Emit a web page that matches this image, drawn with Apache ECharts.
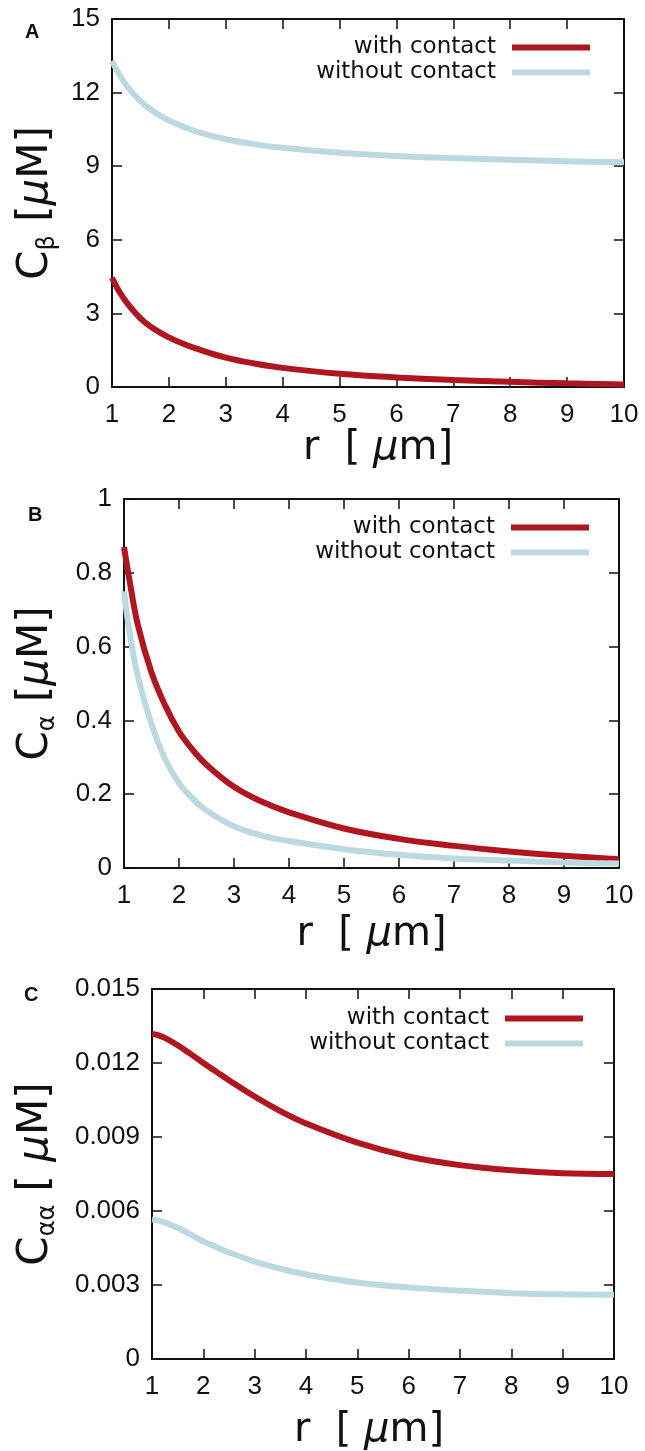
<!DOCTYPE html>
<html>
<head>
<meta charset="utf-8">
<script src="https://cdn.jsdelivr.net/npm/echarts@6/dist/echarts.min.js"></script>
<style>
  html, body { margin: 0; padding: 0; background: #fff; }
  #chart { width: 645px; height: 1451px; }
</style>
</head>
<body>
<div id="chart"></div>
<script>
// r sample points (µm) and curves
const rValues = [1, 1.1, 1.25, 1.5, 1.75, 2, 2.25, 2.5, 3, 3.5, 4, 5, 6, 7, 8, 9, 10];
const seriesNames = ["with contact", "without contact"];

const betaWith = [4.45, 4.0, 3.47, 2.8, 2.35, 2.02, 1.76, 1.55, 1.2, 0.96, 0.78, 0.54, 0.39, 0.29, 0.21, 0.15, 0.1];
const betaWithout = [13.3, 12.85, 12.3, 11.65, 11.2, 10.87, 10.62, 10.4, 10.1, 9.9, 9.75, 9.55, 9.42, 9.33, 9.26, 9.2, 9.16];

const alphaWith = [0.87, 0.78, 0.66, 0.53, 0.44, 0.37, 0.32, 0.28, 0.22, 0.18, 0.151, 0.107, 0.079, 0.06, 0.045, 0.033, 0.024];
const alphaWithout = [0.75, 0.64, 0.52, 0.39, 0.295, 0.23, 0.188, 0.156, 0.113, 0.088, 0.073, 0.051, 0.036, 0.026, 0.02, 0.015, 0.012];

const alphaAlphaWith = [0.01318, 0.01314, 0.01302, 0.01272, 0.01237, 0.012, 0.01165, 0.0113, 0.01064, 0.01005, 0.00955, 0.00877, 0.00821, 0.00786, 0.00765, 0.00753, 0.0075];
const alphaAlphaWithout = [0.00566, 0.00562, 0.00553, 0.00532, 0.00505, 0.00477, 0.00454, 0.00432, 0.00395, 0.00366, 0.00343, 0.0031, 0.0029, 0.00277, 0.00267, 0.00262, 0.0026];

// tick labels
const xTicks = [1, 2, 3, 4, 5, 6, 7, 8, 9, 10];
const yTicksA = [0, 3, 6, 9, 12, 15];
const yTicksB = [0, 0.2, 0.4, 0.6, 0.8, 1];
const yTicksC = [0, 0.003, 0.006, 0.009, 0.012, 0.015];

const RED = "#b0161f";
const BLUE = "#bcd9e1";
const FONT = "DejaVu Sans";
const TICK_FONT = "Liberation Sans";

const panels = [
  { letter: "A", ticks: yTicksA, withC: betaWith, withoutC: betaWithout,
    yName: "{c|C}{s|β}{c| [}{m|μ}{c|M]}",
    grid: { left: 112, top: 19, width: 512, height: 368 },
    yGap: 52, xGap: 42, xShift: 10,
    legend: { right: 55, top: 36 }, title: { left: 25, top: 22 } },
  { letter: "B", ticks: yTicksB, withC: alphaWith, withoutC: alphaWithout,
    yName: "{c|C}{s|α}{c| [}{m|μ}{c|M]}",
    grid: { left: 124, top: 499, width: 495, height: 369 },
    yGap: 64, xGap: 47, xShift: 0,
    legend: { right: 56, top: 516 }, title: { left: 28, top: 505 } },
  { letter: "C", ticks: yTicksC, withC: alphaAlphaWith, withoutC: alphaAlphaWithout,
    yName: "{c|C}{s|αα}{c| [ }{m|μ}{c|M]}",
    grid: { left: 152, top: 989, width: 462, height: 370 },
    yGap: 92, xGap: 52, xShift: -14,
    legend: { right: 62, top: 1007 }, title: { left: 24, top: 985 } }
];

function zip(xs, ys) {
  return xs.map((x, i) => [x, ys[i]]);
}

function fmt(v) {
  return String(parseFloat(v.toFixed(4)));
}

const tickStyle = { show: true, inside: true, length: 10, lineStyle: { color: "#111", width: 1.5 } };
const lineAxis = { show: true, onZero: false, lineStyle: { color: "#111", width: 2 } };

const option = {
  backgroundColor: "#fff",
  animation: false,
  title: [], grid: [], xAxis: [], yAxis: [], legend: [], series: []
};

panels.forEach((p, i) => {
  const yMin = p.ticks[0];
  const yMax = p.ticks[p.ticks.length - 1];
  const yStep = p.ticks[1] - p.ticks[0];

  option.title.push({
    text: p.letter, left: p.title.left, top: p.title.top, padding: 0,
    textStyle: { fontFamily: "Liberation Sans", fontWeight: "bold", fontSize: 20, color: "#111" }
  });

  option.grid.push(Object.assign({ show: false, containLabel: false, outerBoundsMode: "none" }, p.grid));

  // bottom / top x axes
  option.xAxis.push({
    type: "value", gridIndex: i, position: "bottom",
    min: xTicks[0], max: xTicks[xTicks.length - 1], interval: 1,
    name: "{a|r  [ }{m|μ}{a|m]}", nameLocation: "middle", nameGap: p.xGap,
    nameTextStyle: {
      padding: p.xShift >= 0 ? [0, 0, 0, 2 * p.xShift] : [0, -2 * p.xShift, 0, 0],
      rich: {
        a: { fontFamily: FONT, fontSize: 40, color: "#111" },
        m: { fontFamily: FONT, fontSize: 40, fontStyle: "italic", color: "#111" }
      }
    },
    axisLine: lineAxis, axisTick: tickStyle, splitLine: { show: false },
    axisLabel: { margin: 15, fontFamily: TICK_FONT, fontSize: 26, color: "#111", formatter: fmt }
  });
  option.xAxis.push({
    type: "value", gridIndex: i, position: "top",
    min: xTicks[0], max: xTicks[xTicks.length - 1], interval: 1,
    axisLine: lineAxis, axisTick: tickStyle, splitLine: { show: false },
    axisLabel: { show: false }
  });

  // left / right y axes
  option.yAxis.push({
    type: "value", gridIndex: i, position: "left",
    min: yMin, max: yMax, interval: yStep,
    name: p.yName, nameLocation: "middle", nameGap: p.yGap, nameRotate: 90,
    nameTextStyle: {
      rich: {
        c: { fontFamily: FONT, fontSize: 42, lineHeight: 48, color: "#111" },
        m: { fontFamily: FONT, fontSize: 42, lineHeight: 48, fontStyle: "italic", color: "#111" },
        s: { fontFamily: FONT, fontSize: 24, lineHeight: 26, verticalAlign: "bottom", color: "#111" }
      }
    },
    axisLine: lineAxis, axisTick: tickStyle, splitLine: { show: false },
    axisLabel: { margin: 12, fontFamily: TICK_FONT, fontSize: 26, color: "#111", formatter: fmt }
  });
  option.yAxis.push({
    type: "value", gridIndex: i, position: "right",
    min: yMin, max: yMax, interval: yStep,
    axisLine: lineAxis, axisTick: tickStyle, splitLine: { show: false },
    axisLabel: { show: false }
  });

  option.legend.push({
    orient: "vertical", align: "right", right: p.legend.right, top: p.legend.top,
    data: seriesNames, icon: "rect", itemWidth: 78, itemHeight: 6, itemGap: 2,
    selectedMode: false, padding: 0,
    textStyle: { fontFamily: FONT, fontSize: 23, color: "#111", padding: [0, 11, 0, 0] }
  });

  [[p.withC, RED], [p.withoutC, BLUE]].forEach(([vals, color], k) => {
    option.series.push({
      name: seriesNames[k], type: "line",
      xAxisIndex: 2 * i, yAxisIndex: 2 * i,
      data: zip(rValues, vals),
      smooth: 0.4, showSymbol: false, symbol: "none",
      itemStyle: { color: color },
      lineStyle: { color: color, width: 6 }
    });
  });
});

const chart = echarts.init(document.getElementById("chart"), null, { renderer: "canvas" });
chart.setOption(option);
</script>
</body>
</html>
